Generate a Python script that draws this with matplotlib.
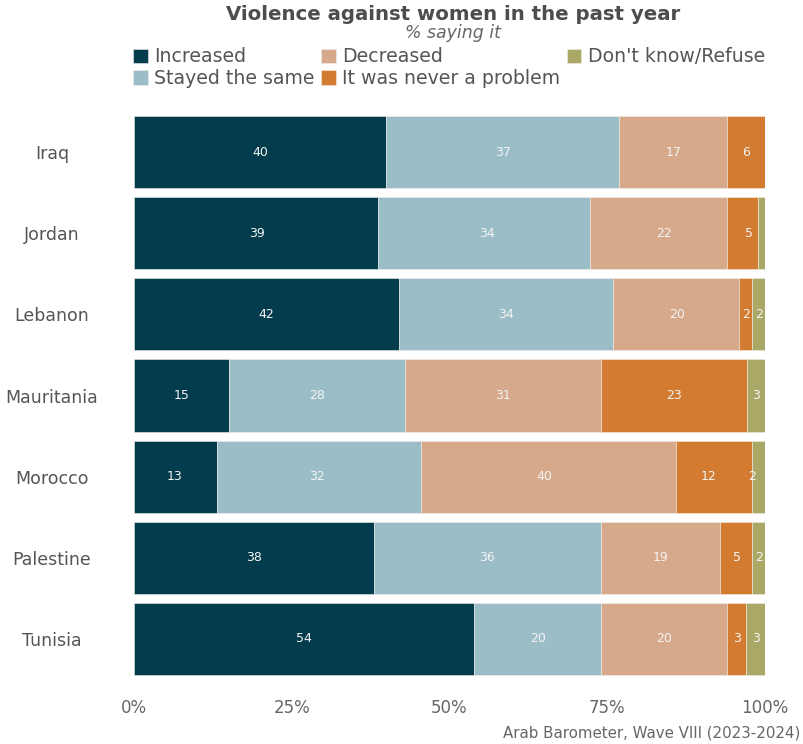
import numpy as np
import matplotlib.pyplot as plt

plt.rcParams['font.family'] = ['DejaVu Sans']

countries = ['Iraq', 'Jordan', 'Lebanon', 'Mauritania', 'Morocco', 'Palestine', 'Tunisia']
responses = ['Increased', 'Stayed the same', 'Decreased', 'It was never a problem', "Don't know/Refuse"]
colors = ['#033d4d', '#9bbdc8', '#d5a98a', '#d27b31', '#aaa866']

increased = [39.9, 38.7, 42.0, 15.1, 13.2, 38.0, 53.9]
stayed = [37.0, 33.6, 33.9, 27.9, 32.3, 36.0, 20.1]
decreased = [17.1, 21.7, 20.0, 31.0, 40.4, 18.9, 20.0]
never = [6.0, 4.9, 2.1, 23.1, 12.0, 5.1, 3.0]
dont_know = [0.0, 1.1, 2.1, 3.0, 2.1, 2.1, 3.0]

series = [increased, stayed, decreased, never, dont_know]

fig = plt.figure(figsize=(8.04, 7.44), dpi=100)
ax = fig.add_axes([134 / 804, 1 - 679.5 / 744, (765 - 134) / 804, (679.5 - 111.5) / 744])

y = np.arange(len(countries))
left = np.zeros(len(countries))
left_lbl = np.zeros(len(countries))
for vals, name, col in zip(series, responses, colors):
    vals = np.array(vals)
    ax.barh(y, vals, left=left, height=0.89, color=col, label=name,
            edgecolor='#f2ede8', linewidth=0.4)
    # label positions follow the rounded shares
    rnd = np.round(vals)
    for yi, v, l in zip(y, rnd, left_lbl):
        if v >= 2:
            ax.text(l + v / 2, yi, f'{v:.0f}', ha='center', va='center',
                    color='#f4f4f4', fontsize=9)
    left += vals
    left_lbl += rnd

ax.set_xlim(0, 100)
ax.set_ylim(len(countries) - 0.5, -0.5)
ax.set_xticks([0, 25, 50, 75, 100])
ax.set_xticklabels(['0%', '25%', '50%', '75%', '100%'], color='#666666', fontsize=12)
ax.set_yticks(y)
ax.set_yticklabels(countries, color='#555555', fontsize=12.5, ha='center')
ax.tick_params(axis='y', length=0, pad=59)
ax.tick_params(axis='x', length=0, pad=14)
for s in ax.spines.values():
    s.set_visible(False)

fig.text(453 / 804, 1 - 14 / 744, 'Violence against women in the past year', ha='center', va='center',
         fontsize=14.2, fontweight='bold', color='#4d4d4d')
fig.text(453 / 804, 1 - 33 / 744, '% saying it', ha='center', va='center',
         fontsize=12.5, style='italic', color='#666666')

fig.legend(loc='upper left', bbox_to_anchor=(124 / 804, 1 - 38 / 744), ncol=3, frameon=False,
           fontsize=13.6, handlelength=0.75, handleheight=0.8, handletextpad=0.35,
           columnspacing=0.35, labelspacing=0.15, labelcolor='#555555', borderpad=0)

fig.text(800 / 804, 1 - 733 / 744, 'Arab Barometer, Wave VIII (2023-2024)', ha='right', va='center',
         fontsize=10.8, color='#666666')

fig.savefig('out.png', dpi=100)
